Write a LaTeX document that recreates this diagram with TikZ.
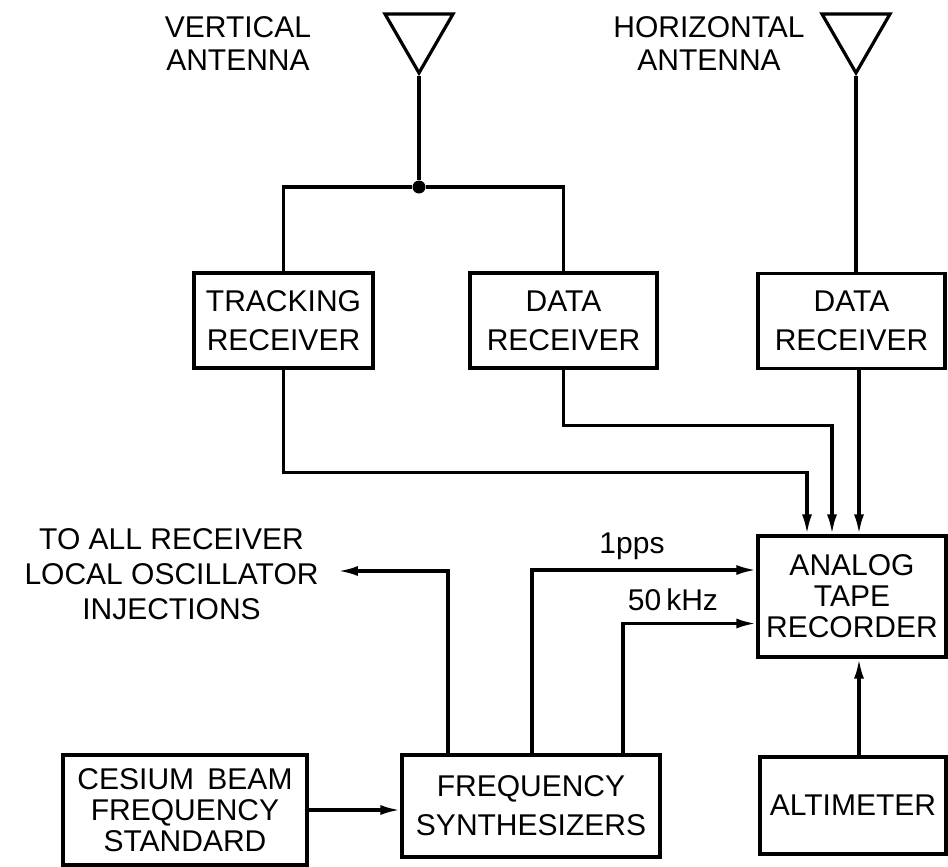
\documentclass[tikz,border=0pt]{standalone}
\usepackage{fontspec}
\setmainfont{Liberation Sans}
\usetikzlibrary{shapes.geometric,arrows.meta,positioning,calc}
\tikzset{
  blk/.style   = {rectangle, draw=black, line width=1.6pt, align=center,
                  inner sep=0pt, font=\fontsize{15}{19.5}\selectfont},
  blkt/.style  = {blk, font=\fontsize{15}{15.5}\selectfont},
  lbl/.style   = {align=center, inner sep=0pt, font=\fontsize{15}{16.5}\selectfont},
  ant/.style   = {regular polygon, regular polygon sides=3, shape border rotate=180,
                  draw=black, line width=1.6pt, inner sep=0pt, minimum size=39.3pt},
  jdot/.style  = {circle, fill=black, inner sep=0pt, minimum size=6.5pt},
  wire/.style  = {line width=1.6pt, black},
  fl/.style    = {wire, -{Latex[length=10pt,width=5pt]}},
}
\begin{document}
\begin{tikzpicture}[x=0.5pt, y=-0.5pt]
  \useasboundingbox (0,0) rectangle (948,867);
  % antennas
  \node[ant] (vant) at (419,33.6) {};
  \node[ant] (hant) at (856,33.6) {};
  \node[lbl] (vtxt) at (238,44) {VERTICAL\\ANTENNA};
  \node[lbl] (htxt) at (709,44) {HORIZONTAL\\ANTENNA};
  \node[jdot] (jn) at (419,187) {};
  % receivers
  \node[blk, minimum width=89.5pt, minimum height=47.5pt] (trk) at (283.5,320.5) {TRACKING\\RECEIVER};
  \node[blk, minimum width=93.5pt, minimum height=47.5pt] (drx1) at (563.5,320.5) {DATA\\RECEIVER};
  \node[blk, minimum width=93.5pt, minimum height=47.5pt] (drx2) at (851.5,321) {DATA\\RECEIVER};
  \node[blkt, minimum width=94pt, minimum height=60.5pt] (atr) at (852,596.5) {ANALOG\\TAPE\\RECORDER};
  % bottom row
  \node[blkt, minimum width=122pt, minimum height=55pt] (csb) at (185,810) {CESIUM\, BEAM\\FREQUENCY\\STANDARD};
  \node[blk, minimum width=129pt, minimum height=51pt] (syn) at (531,806) {FREQUENCY\\SYNTHESIZERS};
  \node[blk, minimum width=93pt, minimum height=48.5pt] (alt) at (853,805.5) {ALTIMETER};
  \node[lbl, font=\fontsize{15}{17.5}\selectfont] (lo) at (171.5,574) {TO ALL RECEIVER\\LOCAL OSCILLATOR\\INJECTIONS};
  \node[lbl, anchor=base] (pps) at (632,553) {1pps};
  \node[lbl, anchor=base] (khz) at (673,610) {50\,kHz};
  % connections
  \draw[wire] (vant.south) -- (jn);
  \draw[wire] (jn) -| (trk.north);
  \draw[wire] (jn) -| (drx1.north);
  \draw[wire] (hant.south) -- (hant.south |- drx2.north);
  \draw[fl] (trk.south) -- ++(0,103) -| ($(atr.north)+(-45,0)$);
  \draw[fl] (drx1.south) -- ++(0,56) -| ($(atr.north)+(-20,0)$);
  \draw[fl] ($(drx2.south)+(7.5,0)$) -- ($(atr.north)+(7,0)$);
  \draw[fl] ($(syn.north)+(-83,0)$) |- ($(lo.east)+(19,-3)$);
  \draw[fl] ($(syn.north)+(1,0)$) |- ($(atr.west)+(0,-26.5)$);
  \draw[fl] ($(syn.north)+(92,0)$) |- ($(atr.west)+(0,27)$);
  \draw[fl] ($(alt.north)+(6,0)$) -- ($(atr.south)+(7,0)$);
  \draw[fl] (csb.east) -- (csb.east -| syn.west);
\end{tikzpicture}
\end{document}
